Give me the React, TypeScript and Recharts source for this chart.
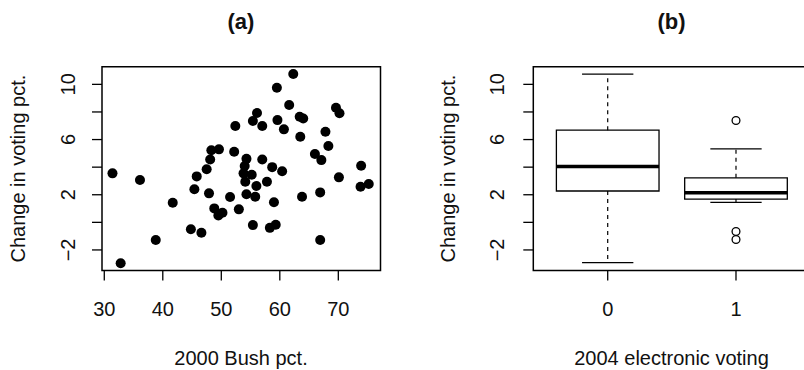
import React from 'react';
import { ScatterChart, ComposedChart, Scatter, XAxis, YAxis, ReferenceArea, ReferenceLine } from 'recharts';

// Panel (a): 2000 Bush pct. vs change in voting pct.
const bushPct = [31.4, 32.8, 36.1, 38.8, 41.7, 44.8, 46.6, 45.4, 45.8, 47.5, 47.9, 48.1, 48.3, 49.6, 48.8, 49.5, 50.2, 51.5, 52.2, 52.4, 53.0, 54.3, 54.0, 53.8, 55.2, 54.1, 54.3, 55.4, 56.0, 55.8, 57.0, 57.8, 58.7, 59.0, 58.3, 59.3, 60.4, 55.4, 56.1, 57.0, 59.5, 59.6, 60.7, 61.6, 62.3, 63.4, 64.0, 63.5, 63.8, 66.0, 67.1, 66.9, 66.9, 67.8, 68.3, 69.6, 70.2, 70.1, 73.9, 73.8, 75.2];
const changePct = [3.55, -2.97, 3.07, -1.28, 1.42, -0.50, -0.75, 2.40, 3.33, 3.85, 2.10, 4.56, 5.22, 5.29, 1.01, 0.50, 0.70, 1.84, 5.12, 6.98, 0.94, 4.60, 4.08, 3.55, 3.45, 2.94, 2.03, -0.20, 2.64, 1.86, 4.56, 2.94, 4.00, 1.45, -0.40, -0.18, 3.70, 7.35, 7.92, 6.98, 9.75, 7.41, 6.74, 8.50, 10.75, 7.65, 7.53, 6.20, 1.86, 4.95, 4.51, 2.17, -1.28, 6.57, 5.53, 8.30, 7.90, 3.26, 4.10, 2.58, 2.78];
const xTicksA = [30, 40, 50, 60, 70];

// Panel (b): boxplot by 2004 electronic voting
const groupLabels = ['0', '1'];
const groupPositions = [1, 2];
const boxMin = [-2.92, 1.45];
const boxQ1 = [2.27, 1.69];
const boxMedian = [4.05, 2.15];
const boxQ3 = [6.68, 3.23];
const boxMax = [10.74, 5.32];
const outlierGroup = [2, 2, 2];
const outlierValues = [7.38, -0.66, -1.24];

const yTicks = [-2, 0, 2, 4, 6, 8, 10];
const yLabelTicks = [10, 6, 2, -2];

const Y_DOMAIN: [number, number] = [-3.49, 11.28];
const XA_DOMAIN: [number, number] = [29.61, 77.21];
const XB_DOMAIN: [number, number] = [0.42, 2.58];

const FONT = '"Liberation Sans", Arial, Helvetica, sans-serif';
const FS = 20;

const fmt = (v: number) => (v < 0 ? '\u2212' + Math.abs(v) : String(v));

const makeXTick = (labels?: string[]) => (props: any) => {
  const { x, y, payload } = props;
  const v = payload.value;
  const text = labels ? labels[Math.round(v) - 1] : fmt(v);
  return (
    <text x={x} y={y + 28} textAnchor="middle" dominantBaseline="central" fontFamily={FONT} fontSize={FS} fill="#111">
      {text}
    </text>
  );
};

const makeYTick = (offset: number) => (props: any) => {
  const { x, y, payload } = props;
  const v = payload.value;
  if (!yLabelTicks.includes(v)) return <g />;
  const tx = x - offset;
  return (
    <text x={tx} y={y} transform={`rotate(-90, ${tx}, ${y})`} textAnchor="middle" dominantBaseline="central" fontFamily={FONT} fontSize={FS} fill="#111">
      {fmt(v)}
    </text>
  );
};

const dot = (props: any) => <circle cx={props.cx} cy={props.cy} r={5} fill="#000" />;
const openDot = (props: any) => <circle cx={props.cx} cy={props.cy} r={3.9} fill="#fff" stroke="#000" strokeWidth={1.3} />;

const scatterData = bushPct.map((x, i) => ({ x, y: changePct[i] }));
const outlierData = outlierGroup.map((g, i) => ({ x: g, y: outlierValues[i] }));

export default function App() {
  return (
    <div style={{ position: 'fixed', left: 0, top: 0, width: 804, height: 370, overflow: 'hidden', background: '#fff' }}>
      <div style={{ position: 'absolute', left: 0, top: 0 }}>
        <ScatterChart width={400} height={370} margin={{ top: 66.7, right: 19.5, bottom: 59.5, left: 42 }}>
          <XAxis type="number" dataKey="x" domain={XA_DOMAIN} allowDataOverflow ticks={xTicksA} interval={0}
            axisLine={false} tickLine={{ stroke: '#000', strokeWidth: 1.3 }} tickSize={10} tickMargin={0} height={40}
            tick={makeXTick()} />
          <YAxis type="number" dataKey="y" domain={Y_DOMAIN} allowDataOverflow ticks={yTicks} interval={0}
            axisLine={false} tickLine={{ stroke: '#000', strokeWidth: 1.3 }} tickSize={10} tickMargin={0} width={60}
            tick={makeYTick(24)} />
          <ReferenceArea x1={XA_DOMAIN[0]} x2={XA_DOMAIN[1]} y1={Y_DOMAIN[0]} y2={Y_DOMAIN[1]} fill="none" fillOpacity={0}
            stroke="#000" strokeWidth={1.5} ifOverflow="visible" />
          <Scatter data={scatterData} isAnimationActive={false} shape={dot} />
        </ScatterChart>
      </div>
      <div style={{ position: 'absolute', left: 420, top: 0 }}>
        <ComposedChart width={391} height={370} data={outlierData} margin={{ top: 66.7, right: 0.6, bottom: 59.5, left: 53.3 }}>
          <XAxis type="number" dataKey="x" domain={XB_DOMAIN} allowDataOverflow ticks={groupPositions} interval={0}
            axisLine={false} tickLine={{ stroke: '#000', strokeWidth: 1.3 }} tickSize={10} tickMargin={0} height={40}
            tick={makeXTick(groupLabels)} />
          <YAxis type="number" dataKey="y" domain={Y_DOMAIN} allowDataOverflow ticks={yTicks} interval={0}
            axisLine={false} tickLine={{ stroke: '#000', strokeWidth: 1.3 }} tickSize={10} tickMargin={0} width={60}
            tick={makeYTick(26)} />
          <ReferenceArea x1={XB_DOMAIN[0]} x2={XB_DOMAIN[1]} y1={Y_DOMAIN[0]} y2={Y_DOMAIN[1]} fill="none" fillOpacity={0}
            stroke="#000" strokeWidth={1.5} ifOverflow="visible" />
          {groupPositions.map((g, i) => (
            <ReferenceLine key={'wu' + i} segment={[{ x: g, y: boxQ3[i] }, { x: g, y: boxMax[i] }]} stroke="#000" strokeWidth={1.2} strokeDasharray="4 4" ifOverflow="visible" />
          ))}
          {groupPositions.map((g, i) => (
            <ReferenceLine key={'wl' + i} segment={[{ x: g, y: boxQ1[i] }, { x: g, y: boxMin[i] }]} stroke="#000" strokeWidth={1.2} strokeDasharray="4 4" ifOverflow="visible" />
          ))}
          {groupPositions.map((g, i) => (
            <ReferenceLine key={'cu' + i} segment={[{ x: g - 0.2, y: boxMax[i] }, { x: g + 0.2, y: boxMax[i] }]} stroke="#000" strokeWidth={1.3} ifOverflow="visible" />
          ))}
          {groupPositions.map((g, i) => (
            <ReferenceLine key={'cl' + i} segment={[{ x: g - 0.2, y: boxMin[i] }, { x: g + 0.2, y: boxMin[i] }]} stroke="#000" strokeWidth={1.3} ifOverflow="visible" />
          ))}
          {groupPositions.map((g, i) => (
            <ReferenceArea key={'b' + i} x1={g - 0.4} x2={g + 0.4} y1={boxQ1[i]} y2={boxQ3[i]} fill="#fff" fillOpacity={1} stroke="#000" strokeWidth={1.3} ifOverflow="visible" />
          ))}
          {groupPositions.map((g, i) => (
            <ReferenceLine key={'m' + i} segment={[{ x: g - 0.4, y: boxMedian[i] }, { x: g + 0.4, y: boxMedian[i] }]} stroke="#000" strokeWidth={3.5} ifOverflow="visible" />
          ))}
          <Scatter dataKey="y" isAnimationActive={false} shape={openDot} />
        </ComposedChart>
      </div>
      <svg width={804} height={370} style={{ position: 'absolute', left: 0, top: 0, pointerEvents: 'none' }}>
        <g fontFamily={FONT} fill="#111">
          <text x={241} y={21} textAnchor="middle" dominantBaseline="central" fontSize={22} fontWeight="bold">(a)</text>
          <text x={671.5} y={21} textAnchor="middle" dominantBaseline="central" fontSize={22} fontWeight="bold">(b)</text>
          <text x={241} y={358} textAnchor="middle" dominantBaseline="central" fontSize={FS}>2000 Bush pct.</text>
          <text x={671.5} y={358} textAnchor="middle" dominantBaseline="central" fontSize={FS}>2004 electronic voting</text>
          <text x={18.5} y={168.6} transform="rotate(-90, 18.5, 168.6)" textAnchor="middle" dominantBaseline="central" fontSize={FS}>Change in voting pct.</text>
          <text x={448.3} y={168.6} transform="rotate(-90, 448.3, 168.6)" textAnchor="middle" dominantBaseline="central" fontSize={FS}>Change in voting pct.</text>
        </g>
      </svg>
    </div>
  );
}
